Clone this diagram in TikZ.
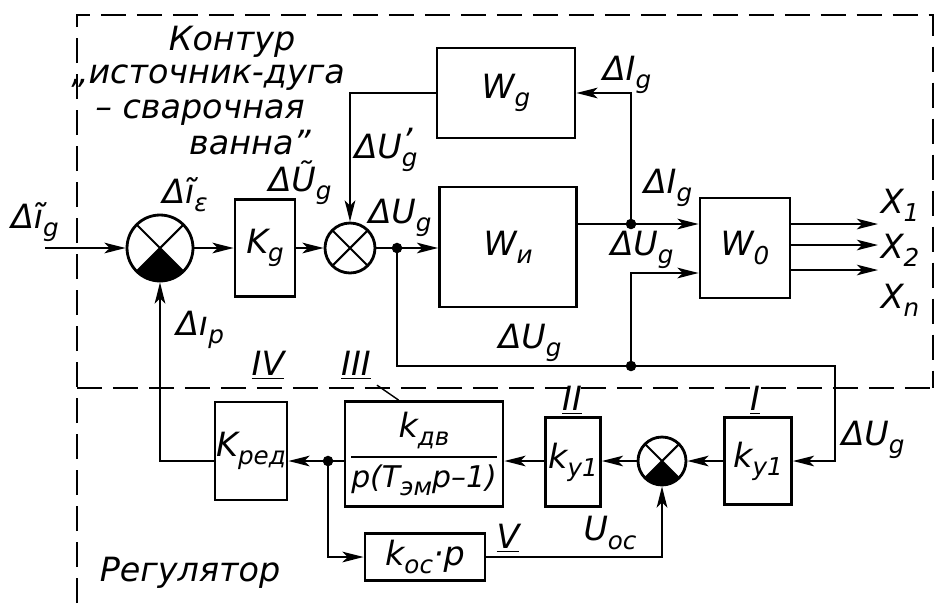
\documentclass[tikz,border=0pt]{standalone}
\usepackage{fontspec}
\setmainfont{DejaVu Sans}
\usetikzlibrary{arrows.meta}

\newcommand\lo[1]{\raisebox{-0.45ex}{\fontsize{14}{14}\selectfont #1}}
\newcommand\hi[1]{\makebox[0pt][l]{\raisebox{0.35ex}{#1}}}

\tikzset{
  blk/.style={draw, line width=1.6pt, inner sep=0pt},
  ln/.style={line width=1.4pt},
  arr/.style={line width=1.4pt, -{Stealth[length=12pt,width=6pt,inset=3pt]}},
  frame/.style={line width=1.2pt, dash pattern=on 0.5cm off 0.22cm},
  summer/.style={circle, draw, line width=1.6pt, inner sep=0pt, minimum size=#1,
    path picture={
      \draw[line width=1.2pt] (path picture bounding box.north west) -- (path picture bounding box.south east)
        (path picture bounding box.north east) -- (path picture bounding box.south west);}},
  summerneg/.style={summer=#1,
    path picture={
      \fill (path picture bounding box.center) -- (path picture bounding box.south west)
        -- (path picture bounding box.south east) -- cycle;
      \draw[line width=1.2pt] (path picture bounding box.north west) -- (path picture bounding box.south east)
        (path picture bounding box.north east) -- (path picture bounding box.south west);}},
}

\begin{document}
\begin{tikzpicture}[x=0.02cm, y=-0.02cm, font=\fontsize{19}{22}\selectfont\itshape]
  \useasboundingbox (0,0) rectangle (936,603);

  % dashed frames
  \draw [frame] (77,603) -- (77,15) -- (933,15) -- (933,388);
  \draw [frame] (77,388) -- (936,388);

  % source - arc - weld pool
  \node [summerneg=1.32cm] (S1) at (160,248) {};
  \node [blk, minimum width=1.2cm, minimum height=1.94cm] (Kg) at (265,248) {K\lo{g}};
  \node [summer=1cm] (S2) at (350,248) {};
  \node [blk, minimum width=2.76cm, minimum height=1.8cm] (Wg) at (506,93) {W\lo{g}};
  \node [blk, minimum width=2.74cm, minimum height=2.4cm] (Wi) at (508,247) {W\lo{и}};
  \node [blk, minimum width=1.8cm, minimum height=2cm] (W0) at (745,248) {W\lo{0}};

  % regulator
  \node [blk, minimum width=1.44cm, minimum height=1.96cm] (Kred) at (251,451) {K\lo{ред}};
  \node [blk, minimum width=3.16cm, minimum height=2.1cm] (Kdv) at (424,454)
    {$\displaystyle{\hbox{k\lo{дв}}\above 1.3pt\hbox{\fontsize{17}{17}\selectfont p(T\lo{эм}p–1)}}$};
  \node [blk, minimum width=1.1cm, minimum height=1.78cm] (Ky2) at (573,462) {k\lo{у1}};
  \node [summerneg=0.96cm] (S3) at (662,461) {};
  \node [blk, minimum width=1.34cm, minimum height=1.74cm] (Ky1) at (758,461) {k\lo{у1}};
  \node [blk, minimum width=2.4cm, minimum height=0.94cm] (Koc) at (425,557) {k\lo{ос}·p};

  \coordinate (in) at (45,248);
  \coordinate (j1) at (397,248);
  \coordinate (j2) at (631,224);
  \coordinate (j3) at (631,366);
  \coordinate (c1) at (835,366);
  \coordinate (j4) at (328,461);

  % upper loop
  \draw [arr] (in) -- (S1);
  \draw [arr] (S1) -- (Kg);
  \draw [arr] (Kg) -- (S2);
  \draw [arr] (S2) -- (S2 -| Wi.west);
  \draw [arr] (Wg.west) -| (S2);
  \draw [ln]  (Wi.east |- j2) -- (j2);
  \draw [arr] (j2) -- (j2 -| W0.west);
  \draw [arr] (j2) |- (Wg.east);
  \draw [arr] (j3) |- ([yshift=-0.5cm]W0.west);
  \foreach \i/\y in {1/224, 2/245, n/270} {
    \coordinate (o\i) at (878,\y);
    \draw [arr] (W0.east |- o\i) -- (o\i);
  }

  % regulator loop
  \draw [arr] (j1) |- (c1) |- (Ky1.east);
  \draw [arr] (Ky1) -- (S3);
  \draw [arr] (S3) -- (S3 -| Ky2.east);
  \draw [arr] (S3 -| Ky2.west) -- (S3 -| Kdv.east);
  \draw [arr] (S3 -| Kdv.west) -- (S3 -| Kred.east);
  \draw [arr] (j4) |- (Koc.west);
  \draw [arr] (Koc.east) -| (S3);
  \draw [arr] (S3 -| Kred.west) -| (S1);

  \foreach \j in {j1, j2, j3, j4}
    \fill (\j) circle (3pt);

  % labels
  \node (tKontur) at (232,42)  {Контур};
  \node (tSource) at (208,78)  {„источник-дуга};
  \node (tWeld)   at (200,113) {– сварочная};
  \node (tPool)   at (250,143) {ванна”};
  \node (tIn)     at (35,222)  {Δĩ\lo{g}};
  \node (tIe)     at (185,195) {Δĩ\lo{ε}};
  \node (tUt)     at (300,183) {ΔŨ\lo{g}};
  \node (tUp)     at (386,150) {ΔU\hi{'}\lo{g}};
  \node (tU1)     at (400,218) {ΔU\lo{g}};
  \node (tI1)     at (627,75)  {ΔI\lo{g}};
  \node (tI2)     at (668,188) {ΔI\lo{g}};
  \node (tU2)     at (642,250) {ΔU\lo{g}};
  \node (tU3)     at (530,343) {ΔU\lo{g}};
  \node (tU4)     at (873,440) {ΔU\lo{g}};
  \node (tIp)     at (200,330) {Δı\lo{p}};
  \node (X1)      at (900,205) {X\lo{1}};
  \node (X2)      at (900,250) {X\lo{2}};
  \node (Xn)      at (900,300) {X\lo{n}};
  \node (tIV)     at (268,365) {\underline{IV}};
  \node (tIII)    at (356,365) {\underline{III}};
  \node (tII)     at (572,400) {\underline{II}};
  \node (tI)      at (755,400) {\underline{I}};
  \node (tV)      at (508,538) {\underline{V}};
  \node (tUoc)    at (610,533) {U\lo{ос}};
  \node (tReg)    at (190,573) {Регулятор};
  \draw [line width=0.8pt] (tIII.south east) -- ([xshift=1.1cm]Kdv.north west);
\end{tikzpicture}
\end{document}
